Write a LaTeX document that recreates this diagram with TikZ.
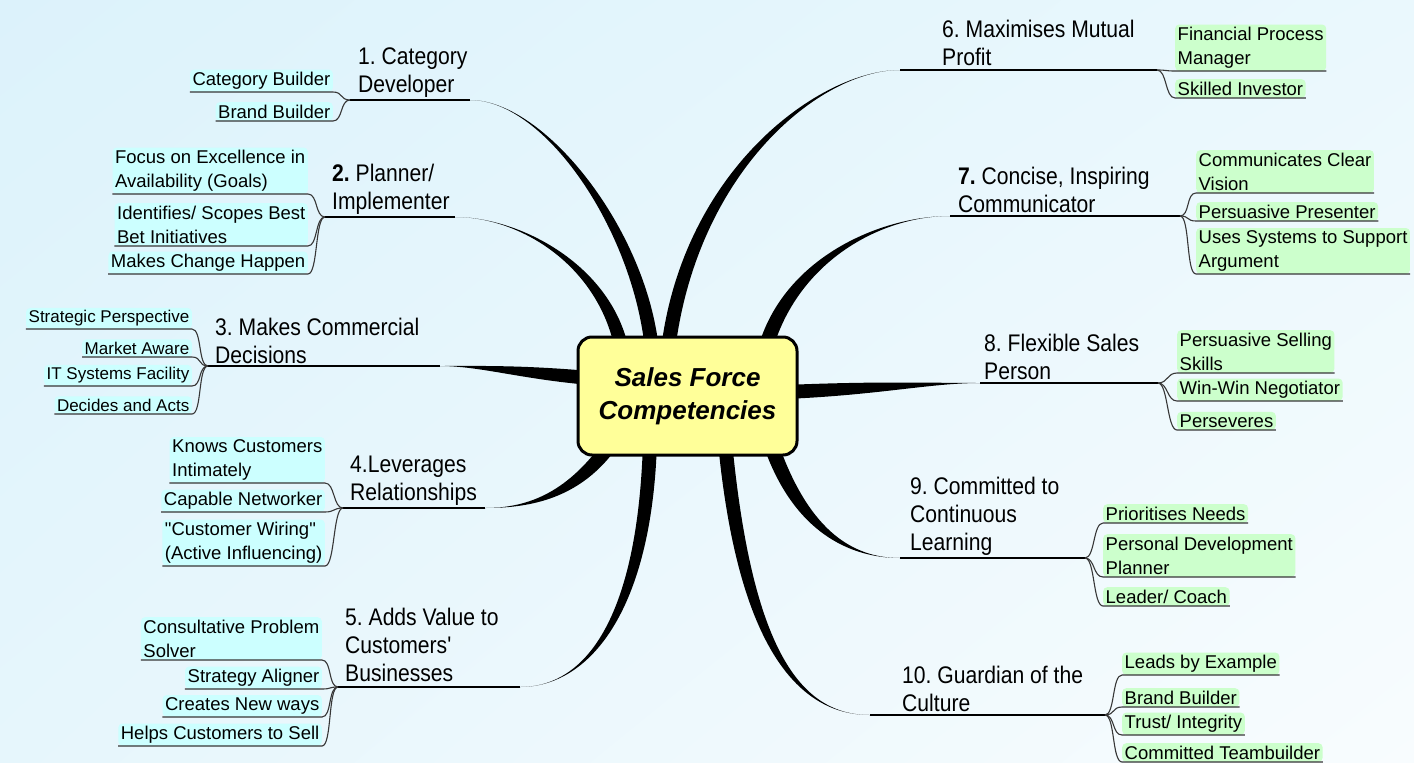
\documentclass[tikz,border=0pt]{standalone}
\usepackage{fontspec}
\setmainfont{Liberation Sans}
\newfontfamily\topicfont[FakeStretch=0.88]{Liberation Sans}
\newfontfamily\leaffont{Liberation Sans}
\usetikzlibrary{calc,positioning,shadings}
\definecolor{coreyellow}{RGB}{255,255,153}
\definecolor{leafcyan}{RGB}{204,255,255}
\definecolor{leafgreen}{RGB}{204,255,204}
\definecolor{twiggray}{RGB}{55,55,55}
\definecolor{bgtl}{RGB}{220,242,251}
\definecolor{bgtr}{RGB}{234,248,253}
\definecolor{bgbl}{RGB}{230,246,252}
\definecolor{bgbr}{RGB}{248,252,254}
\tikzset{
    core/.style={draw,rounded corners=14pt,line width=3pt,fill=coreyellow,minimum width=219pt,minimum height=118pt,align=center,font=\bfseries\itshape\fontsize{26}{33}\selectfont},
    topic/.style={inner sep=1pt,align=left,font=\topicfont\frenchspacing\fontsize{24}{28}\selectfont},
    leafL/.style={fill=leafcyan,rounded corners=4pt,inner sep=2.5pt,align=left,anchor=south east,font=\leaffont\fontsize{18.5}{24}\selectfont},
    leafR/.style={fill=leafgreen,rounded corners=4pt,inner sep=2.5pt,align=left,anchor=south west,font=\leaffont\fontsize{18.5}{24}\selectfont},
    stem/.style={line width=1.6pt},
    twig/.style={draw=twiggray,line width=1.1pt},
    limb/.style={fill=black}
}
% tapered branch: start, half width, first control, second control, end
\newcommand{\limb}[5]{%
    \fill[limb] ($#1+#2$) .. controls ($#3+#2$) and #4 .. #5
        .. controls #4 and ($#3-#2$) .. ($#1-#2$) -- cycle;}

\begin{document}
\begin{tikzpicture}[x=1pt,y=-1pt]

    \useasboundingbox (0,0) rectangle (1414,763);
    \shade[upper left=bgtl,upper right=bgtr,lower left=bgbl,lower right=bgbr] (0,0) rectangle (1414,763);

    \coordinate (hub) at (687.5,396);

    % joins and forks of the ten branches
    \coordinate (j1) at (470,100);   \coordinate (f1) at (350,100);
    \coordinate (j2) at (455,217);   \coordinate (f2) at (325,217);
    \coordinate (j3) at (440,366);   \coordinate (f3) at (208,366);
    \coordinate (j4) at (485,508);   \coordinate (f4) at (343,508);
    \coordinate (j5) at (520,687);   \coordinate (f5) at (338,687);
    \coordinate (j6) at (900,70);    \coordinate (f6) at (1157,70);
    \coordinate (j7) at (950,216);   \coordinate (f7) at (1180,216);
    \coordinate (j8) at (980,383);   \coordinate (f8) at (1158,383);
    \coordinate (j9) at (900,558);   \coordinate (f9) at (1085,558);
    \coordinate (j10) at (870,715);  \coordinate (f10) at (1105,715);

    \limb{(hub)+(-35.5,-46)}{(7,0)}{(640,230)}{(545,100)}{(j1)}
    \limb{(hub)+(-65.5,-46)}{(7,0)}{(605,265)}{(520,217)}{(j2)}
    \limb{(hub)+(-97.5,-18)}{(0,7)}{(520,372)}{(480,366)}{(j3)}
    \limb{(hub)+(-75.5,46)}{(6,4)}{(575,495)}{(530,508)}{(j4)}
    \limb{(hub)+(-37.5,46)}{(7,0)}{(645,610)}{(590,687)}{(j5)}
    \limb{(hub)+(-19.5,-46)}{(7,1)}{(690,170)}{(820,70)}{(j6)}
    \limb{(hub)+(77.5,-46)}{(7,2)}{(790,260)}{(880,216)}{(j7)}
    \limb{(hub)+(97.5,-4)}{(0,7)}{(880,388)}{(930,383)}{(j8)}
    \limb{(hub)+(82.5,46)}{(7,-2.4)}{(800,530)}{(850,558)}{(j9)}
    \limb{(hub)+(37.5,46)}{(7,-0.7)}{(745,650)}{(800,715)}{(j10)}

    \node[core] (core) at (hub) {Sales Force\\Competencies};

    \foreach \b in {1,...,10}
        \draw[stem] (f\b) -- (j\b);

    % main topics
    \node[topic,above right=1pt and 7pt of f1] (t1) {1. Category\\Developer};
    \node[topic,above right=1pt and 6pt of f2] (t2) {\textbf{2.} Planner/\\Implementer};
    \node[topic,above right=1pt and 6pt of f3] (t3) {3. Makes Commercial\\Decisions};
    \node[topic,above right=1pt and 6pt of f4] (t4) {4.Leverages\\Relationships};
    \node[topic,above right=4pt and 6pt of f5] (t5) {5. Adds Value to\\Customers'\\Businesses};
    \node[topic,above right=3pt and 41pt of j6] (t6) {6. Maximises Mutual\\Profit};
    \node[topic,above right=2pt and 7pt of j7] (t7) {\textbf{7.} Concise, Inspiring\\Communicator};
    \node[topic,above right=2pt and 3pt of j8] (t8) {8. Flexible Sales\\Person};
    \node[topic,above right=1pt and 9pt of j9] (t9) {9. Committed to\\Continuous\\Learning};
    \node[topic,above right=2pt and 31pt of j10] (t10) {10. Guardian of the\\Culture};

    % left leaves
    \node[leafL] (l1a) at (333,92)  {Category Builder};
    \node[leafL] (l1b) at (333,121) {Brand Builder};
    \node[leafL] (l2a) at (308,194) {Focus on Excellence in\\Availability (Goals)};
    \node[leafL] (l2b) at (308,246) {Identifies/ Scopes Best\\Bet Initiatives};
    \node[leafL] (l2c) at (308,274) {Makes Change Happen};
    \node[leafL,font=\leaffont\fontsize{17}{22}\selectfont] (l3a) at (192,329) {Strategic Perspective};
    \node[leafL,font=\leaffont\fontsize{17}{22}\selectfont] (l3b) at (192,357) {Market Aware};
    \node[leafL,font=\leaffont\fontsize{17}{22}\selectfont] (l3c) at (192,386) {IT Systems Facility};
    \node[leafL,font=\leaffont\fontsize{17}{22}\selectfont] (l3d) at (192,414) {Decides and Acts};
    \node[leafL] (l4a) at (325,483) {Knows Customers\\Intimately};
    \node[leafL] (l4b) at (325,512) {Capable Networker};
    \node[leafL] (l4c) at (325,566) {"Customer Wiring"\\(Active Influencing)};
    \node[leafL] (l5a) at (322,660) {Consultative Problem\\Solver};
    \node[leafL] (l5b) at (322,689) {Strategy Aligner};
    \node[leafL] (l5c) at (322,717) {Creates New ways};
    \node[leafL] (l5d) at (322,746) {Helps Customers to Sell};

    % right leaves
    \node[leafR] (l6a) at (1175,71)  {Financial Process\\Manager};
    \node[leafR] (l6b) at (1175,98)  {Skilled Investor};
    \node[leafR] (l7a) at (1196,193) {Communicates Clear\\Vision};
    \node[leafR] (l7b) at (1196,221) {Persuasive Presenter};
    \node[leafR] (l7c) at (1196,274) {Uses Systems to Support\\Argument};
    \node[leafR] (l8a) at (1177,373) {Persuasive Selling\\Skills};
    \node[leafR] (l8b) at (1177,401) {Win-Win Negotiator};
    \node[leafR] (l8c) at (1177,430) {Perseveres};
    \node[leafR] (l9a) at (1103,523) {Prioritises Needs};
    \node[leafR] (l9b) at (1103,577) {Personal Development\\Planner};
    \node[leafR] (l9c) at (1103,606) {Leader/ Coach};
    \node[leafR] (l10a) at (1122,675) {Leads by Example};
    \node[leafR] (l10b) at (1122,707) {Brand Builder};
    \node[leafR] (l10c) at (1122,735) {Trust/ Integrity};
    \node[leafR] (l10d) at (1122,762) {Committed Teambuilder};

    % twigs to the leaves
    \foreach \b/\l in {1/l1a,1/l1b,2/l2a,2/l2b,2/l2c,3/l3a,3/l3b,3/l3c,3/l3d,4/l4a,4/l4b,4/l4c,5/l5a,5/l5b,5/l5c,5/l5d}
        \draw[twig] (f\b) .. controls +(-10,0) and +(10,0) .. (\l.south east) -- (\l.south west);
    \foreach \b/\l in {6/l6a,6/l6b,7/l7a,7/l7b,7/l7c,8/l8a,8/l8b,8/l8c,9/l9a,9/l9b,9/l9c,10/l10a,10/l10b,10/l10c,10/l10d}
        \draw[twig] (f\b) .. controls +(10,0) and +(-10,0) .. (\l.south west) -- (\l.south east);

\end{tikzpicture}
\end{document}
